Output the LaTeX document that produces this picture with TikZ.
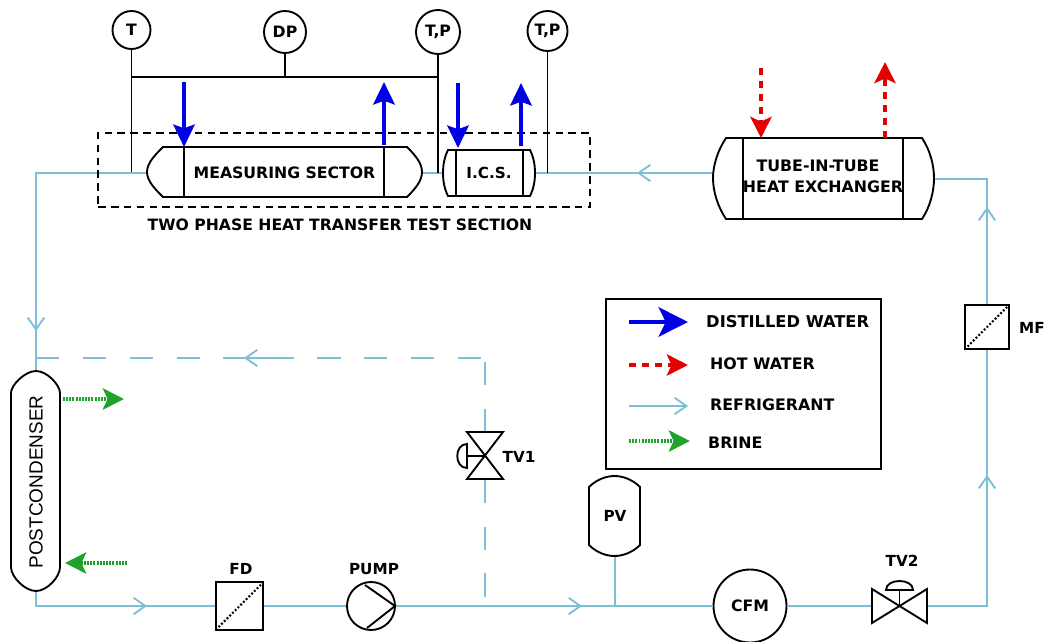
\documentclass[tikz,border=0pt]{standalone}
\usepackage{fontspec}
\setmainfont{DejaVu Sans}[BoldFont={DejaVu Sans Bold}]
\newfontfamily\arialfont{Liberation Sans}
\usetikzlibrary{arrows.meta}
\definecolor{refcol}{HTML}{7DBFD6}
\definecolor{brinecol}{HTML}{1FA32B}
\tikzset{
	equip/.style={inner sep=0pt,font=\bfseries\fontsize{13}{15}\selectfont},
	tag/.style={inner sep=0pt,font=\bfseries\fontsize{13}{15}\selectfont},
	legtag/.style={inner sep=0pt,anchor=west,font=\bfseries\fontsize{13.9}{15}\selectfont},
	gauge/.style={circle,draw,line width=1.6pt,fill=white,inner sep=0pt,font=\bfseries\fontsize{13.4}{15}\selectfont},
	black line/.style={line width=1.6pt},
	refline/.style={refcol,line width=1.9pt},
	refdash/.style={refcol,line width=1.9pt,dash pattern=on 20pt off 20pt},
	reftip/.style={refcol,line width=1.6pt,-{Straight Barb[length=10pt,width=14pt]}},
	bluearrow/.style={blue!90!black,line width=4.2pt,-{Stealth[length=19pt,width=18pt,inset=3pt]}},
	redarrow/.style={red!90!black,line width=4.2pt,dash pattern=on 6pt off 5.2pt,-{Stealth[length=18pt,width=18pt,inset=4pt]}},
	greenarrow/.style={brinecol,line width=3.6pt,dash pattern=on 1.6pt off 1.1pt,-{Stealth[length=18pt,width=18pt,inset=4pt]}},
	filterline/.style={line width=1.8pt,dash pattern=on 1.6pt off 1.7pt}
}
\begin{document}
\begin{tikzpicture}[x=0.03cm,y=-0.03cm]
\useasboundingbox (0,0) rectangle (1045,641);
% gauges
\node (gaugeT) at (131.5,30) [gauge,minimum size=38*0.03cm] {T};
\node (gaugeDP) at (285,32) [gauge,minimum size=42*0.03cm] {DP};
\node (gaugeTPa) at (438,32) [gauge,minimum size=44*0.03cm] {T,P};
\node (gaugeTPb) at (547.5,31) [gauge,minimum size=40*0.03cm] {T,P};
% vessels
\node (meas) at (284.5,173) [equip,font=\bfseries\fontsize{13.4}{15}\selectfont,minimum width=275*0.03cm,minimum height=50*0.03cm] {MEASURING SECTOR};
\node (ics) at (489,173) [equip,minimum width=92*0.03cm,minimum height=46*0.03cm] {I.C.S.};
\node (hx) at (823.5,178.5) [inner sep=0pt,minimum width=221*0.03cm,minimum height=81*0.03cm] {};
\node (hxa) at (818,166) [equip,font=\bfseries\fontsize{13.5}{15}\selectfont] {TUBE-IN-TUBE};
\node (hxb) at (823,187) [equip,font=\bfseries\fontsize{13.5}{15}\selectfont] {HEAT EXCHANGER};
\node (post) at (36,481) [inner sep=0pt,minimum width=49*0.03cm,minimum height=220*0.03cm] {};
\node (posttext) at (36,482) [rotate=90,inner sep=0pt,font=\arialfont\fontsize{16.2}{18}\selectfont] {POSTCONDENSER};
\node (fd) at (239.5,606) [inner sep=0pt,minimum size=47*0.03cm] {};
\node (pump) at (371,606) [circle,draw,line width=1.6pt,inner sep=0pt,minimum size=48*0.03cm] {};
\node (pv) at (615,516) [equip,minimum width=51*0.03cm,minimum height=80*0.03cm] {PV};
\node (cfm) at (750,606) [gauge,minimum size=73*0.03cm] {CFM};
\node (mf) at (987,327) [inner sep=0pt,minimum size=44*0.03cm] {};
\node (tvb) at (899.5,606) [inner sep=0pt,minimum width=55*0.03cm,minimum height=34*0.03cm] {};
\node (tva) at (485,456) [inner sep=0pt,minimum width=36*0.03cm,minimum height=47*0.03cm] {};
% junctions
\coordinate (ca) at (36,173);
\coordinate (cb) at (36,358);
\coordinate (cc) at (483,358);
\coordinate (cci) at (485,362);
\coordinate (cd) at (36,606);
\coordinate (ce) at (987,606);
\coordinate (cf) at (987,179);
\coordinate (cg) at (485,606);
\coordinate (ch) at (615,606);
\coordinate (hxin) at (713,173);
\coordinate (hxout) at (934,179);
% refrigerant
\draw [refline] (meas.west) -- (ca) -- (post.north);
\draw [refline] (meas.east) -- (ics.west);
\draw [refline] (hxin) -- (ics.east);
\draw [refline] (post.south) -- (cd) -- (fd.west);
\draw [refline] (fd.east) -- (pump.west);
\draw [refline] (pump.east) -- (cfm.west);
\draw [refline] (pv.south) -- (ch);
\draw [refline] (cfm.east) -- (tvb.west);
\draw [refline] (tvb.east) -- (ce) -- (mf.south);
\draw [refline] (mf.north) -- (cf) -- (hxout);
\draw [refdash] (cb) -- (cc);
\draw [refdash] (cci) -- (tva.north);
\draw [refdash] (tva.south) -- (cg);
\draw [reftip] (660,173) -- (637,173);
\draw [reftip] (36,300) -- (36,331);
\draw [reftip] (270,358) -- (244,358);
\draw [reftip] (120,606) -- (147,606);
\draw [reftip] (560,606) -- (582,606);
\draw [reftip] (987,230) -- (987,207);
\draw [reftip] (987,500) -- (987,475);
% vessel outlines
\draw [black line] (163,147) -- (407,147) .. controls (415,155) and (422,163) .. (422,172) .. controls (422,181) and (415,189) .. (407,197) -- (163,197) .. controls (155,189) and (147,181) .. (147,172) .. controls (147,163) and (155,155) .. (163,147) -- cycle;
\draw [black line] (184,147) -- (184,197) (384,147) -- (384,197);
\draw [black line] (448,150) -- (530,150) .. controls (534,158) and (535,166) .. (535,173) .. controls (535,180) and (534,188) .. (530,196) -- (448,196) .. controls (444,188) and (443,180) .. (443,173) .. controls (443,166) and (444,158) .. (448,150) -- cycle;
\draw [black line] (456,150) -- (456,196) (523,150) -- (523,196);
\draw [black line] (726,138) -- (922,138) .. controls (930,150) and (934,165) .. (934,178) .. controls (934,192) and (930,207) .. (922,219) -- (726,219) .. controls (718,207) and (713,192) .. (713,178) .. controls (713,165) and (718,150) .. (726,138) -- cycle;
\draw [black line] (743,138) -- (743,219) (903,138) -- (903,219);
\draw [black line] (36,371) .. controls (47,371) and (60,385) .. (60,393) -- (60,567) .. controls (60,577) and (47,591) .. (36,591) .. controls (25,591) and (11,577) .. (11,567) -- (11,393) .. controls (11,385) and (25,371) .. (36,371) -- cycle;
\draw [black line] (589,487) .. controls (597,479) and (607,476) .. (614.5,476) .. controls (622,476) and (632,479) .. (640,487) -- (640,545) .. controls (632,553) and (622,556) .. (614.5,556) .. controls (607,556) and (597,553) .. (589,545) -- cycle;
% gauge lines
\coordinate (busa) at (131.5,77);
\coordinate (busb) at (285,77);
\coordinate (busc) at (438,77);
\coordinate (ta) at (131.5,172);
\coordinate (tb) at (438,173);
\coordinate (tc) at (547.5,173);
\draw [black line] (gaugeT.south) -- (ta);
\draw [black line] (busa) -- (busc);
\draw [black line] (gaugeDP.south) -- (busb);
\draw [black line] (gaugeTPa.south) -- (tb);
\draw [black line] (gaugeTPb.south) -- (tc);
% test section
\node (secbox) at (344,170) [draw,line width=1.3pt,dash pattern=on 6.5pt off 4.5pt,minimum width=492*0.03cm,minimum height=74*0.03cm,inner sep=0pt] {};
\node (seclabel) at (340,225) [tag,font=\bfseries\fontsize{13.35}{15}\selectfont] {TWO PHASE HEAT TRANSFER TEST SECTION};
% fluid arrows
\draw [bluearrow] (184,82) -- (184,147);
\draw [bluearrow] (384,145) -- (384,82);
\draw [bluearrow] (458,83) -- (458,148);
\draw [bluearrow] (521,146) -- (521,83);
\draw [redarrow] (761,68) -- (761,138);
\draw [redarrow] (885,138) -- (885,62);
\draw [greenarrow] (63,399) -- (124,399);
\draw [greenarrow] (127,563) -- (65,563);
% filters
\draw [black line] (fd.north west) rectangle (fd.south east);
\draw [filterline] (fd.south west) -- (fd.north east);
\draw [black line] (mf.north west) rectangle (mf.south east);
\draw [filterline] (mf.south west) -- (mf.north east);
\node (fdlabel) at (241,569) [tag] {FD};
\node (mflabel) at (1032,328) [tag] {MF};
\node (pumplabel) at (374,569) [tag] {PUMP};
\node (tvalabel) at (519,457) [tag] {TV1};
\node (tvblabel) at (902,561) [tag] {TV2};
% pump
\draw [black line] (365,585) -- (395,606) -- (367,628);
% valves
\draw [black line] (467,432) -- (503,432) -- (467,479) -- (503,479) -- cycle;
\draw [black line] (485,456) -- (467,456);
\draw [black line] (467,444) .. controls (454,444) and (454,468) .. (467,468) -- cycle;
\draw [black line] (872,589) -- (927,623) -- (927,589) -- (872,623) -- cycle;
\draw [black line] (899.5,606) -- (899.5,590);
\draw [black line] (886,590) .. controls (886,578) and (913,578) .. (913,590) -- cycle;
% legend
\node (legbox) at (743.5,384) [draw,line width=1.7pt,inner sep=0pt,minimum width=275*0.03cm,minimum height=170*0.03cm] {};
\coordinate (la) at (629,322);
\coordinate (lb) at (688,322);
\coordinate (lc) at (629,365);
\coordinate (ld) at (688,365);
\coordinate (le) at (629,406);
\coordinate (lf) at (688,406);
\coordinate (lg) at (629,441);
\coordinate (lh) at (690,441);
\draw [bluearrow,-{Stealth[length=25pt,width=25pt,inset=6pt]}] (la) -- (lb);
\draw [redarrow] (lc) -- (ld);
\draw [reftip] (le) -- (lf);
\draw [greenarrow] (lg) -- (lh);
\node (lega) at (706,322) [legtag] {DISTILLED WATER};
\node (legb) at (710,364) [legtag,font=\bfseries\fontsize{13.5}{15}\selectfont] {HOT WATER};
\node (legc) at (710,405) [legtag,font=\bfseries\fontsize{13.5}{15}\selectfont] {REFRIGERANT};
\node (legd) at (708,443) [legtag,font=\bfseries\fontsize{13.5}{15}\selectfont] {BRINE};
\end{tikzpicture}
\end{document}
